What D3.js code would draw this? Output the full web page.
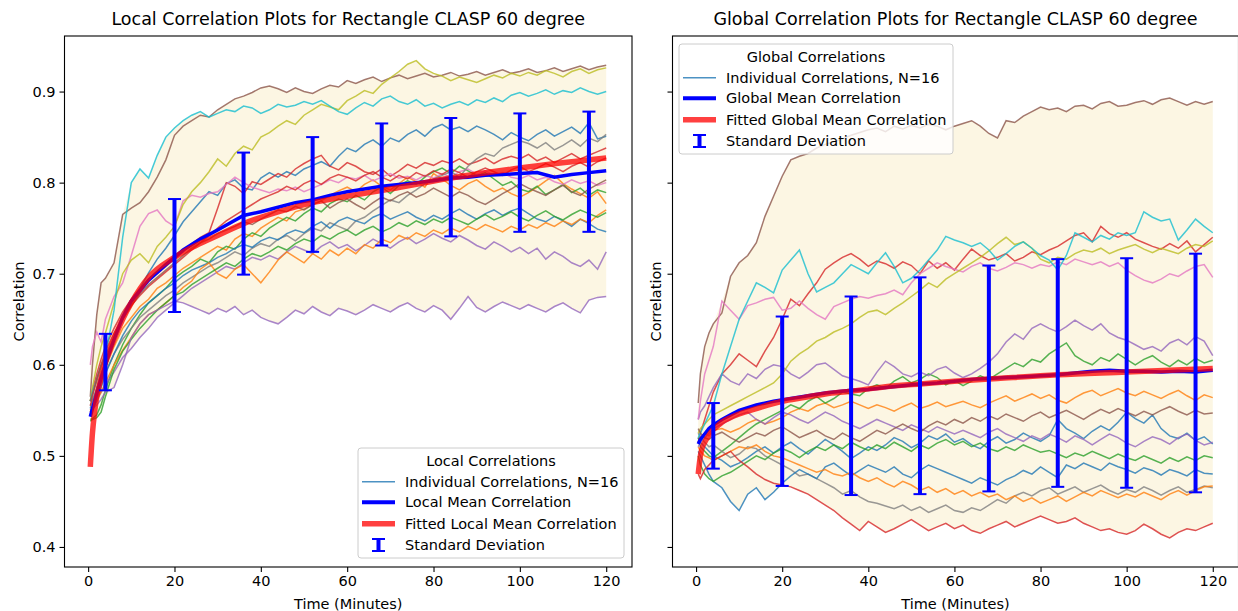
<!DOCTYPE html>
<html>
<head>
<meta charset="utf-8">
<script src="https://cdn.jsdelivr.net/npm/d3@7"></script>
<style>
body { margin: 0; background: #fff; }
svg { font-family: "DejaVu Sans", sans-serif; }
</style>
</head>
<body>
<svg id="chart" width="1238" height="611"></svg>
<script>
// sample times (minutes) shared by all individual series
const minutes = [0.5,1,2,3,4,6,8,10,12,14,16,18,20,22,24,26,28,30,32,34,36,38,40,42,44,46,48,50,52,54,56,58,60,
  62,64,66,68,70,72,74,76,78,80,82,84,86,88,90,92,94,96,98,100,102,104,106,108,110,112,114,116,118,120]

// local correlations, 16 runs (tab10 colour order)
const localLines = [
  [.552,.561,.574,.590,.605,.628,.652,.668,.684,.701,.716,.728,.742,.757,.768,.779,.790,.786,.799,.803,.794,.792,.805,.811,.806,.812,.808,.815,.819,.823,.818,.829,.838,.834,.842,.847,.840,.849,.845,.853,.858,.851,.860,.864,.858,.861,.856,.862,.858,.853,.847,.855,.850,.846,.853,.858,.851,.856,.861,.854,.866,.848,.851],
  [.548,.556,.568,.584,.596,.620,.640,.652,.664,.672,.684,.690,.698,.706,.712,.718,.724,.730,.726,.738,.744,.741,.750,.756,.762,.758,.768,.771,.776,.780,.786,.791,.795,.790,.798,.803,.796,.792,.799,.806,.801,.795,.810,.804,.797,.792,.799,.803,.796,.790,.794,.788,.784,.789,.795,.802,.808,.799,.793,.788,.783,.790,.777],
  [.540,.541,.545,.556,.572,.600,.622,.640,.655,.668,.676,.684,.695,.702,.708,.716,.712,.724,.730,.727,.738,.745,.741,.750,.756,.762,.758,.766,.772,.768,.777,.782,.779,.786,.781,.790,.795,.788,.797,.802,.798,.806,.812,.816,.810,.818,.813,.808,.811,.804,.797,.801,.793,.790,.796,.787,.792,.798,.789,.794,.786,.792,.789],
  [.560,.572,.590,.606,.620,.640,.658,.672,.684,.692,.700,.708,.716,.724,.733,.740,.745,.772,.800,.796,.788,.801,.798,.804,.810,.806,.815,.821,.826,.830,.818,.814,.822,.818,.812,.809,.815,.807,.813,.820,.816,.822,.819,.824,.821,.826,.820,.823,.827,.821,.826,.829,.826,.831,.824,.828,.822,.827,.832,.826,.830,.834,.838],
  [.548,.553,.560,.570,.578,.592,.608,.618,.630,.640,.652,.660,.668,.676,.684,.690,.696,.702,.708,.705,.712,.718,.715,.720,.716,.724,.730,.726,.722,.730,.735,.728,.732,.725,.731,.738,.733,.728,.735,.740,.733,.738,.744,.739,.735,.742,.737,.731,.727,.735,.730,.724,.729,.722,.728,.716,.724,.719,.712,.708,.715,.705,.724],
  [.565,.600,.655,.690,.695,.712,.765,.772,.778,.790,.806,.825,.852,.862,.868,.874,.872,.880,.886,.892,.895,.899,.904,.906,.903,.899,.904,.900,.898,.903,.907,.905,.912,.909,.913,.916,.911,.915,.918,.914,.917,.920,.916,.918,.921,.917,.919,.922,.918,.921,.924,.920,.922,.925,.921,.923,.926,.922,.925,.928,.924,.927,.929],
  [.600,.620,.636,.625,.650,.675,.690,.720,.752,.766,.770,.758,.752,.780,.786,.784,.788,.790,.798,.806,.800,.795,.792,.789,.793,.791,.795,.790,.794,.798,.803,.800,.806,.804,.808,.802,.806,.810,.805,.807,.803,.808,.805,.810,.806,.812,.815,.809,.813,.808,.811,.806,.804,.808,.803,.806,.801,.798,.803,.799,.802,.797,.800],
  [.555,.560,.570,.582,.592,.612,.628,.640,.652,.660,.668,.676,.682,.690,.696,.702,.708,.712,.718,.724,.720,.728,.733,.730,.738,.742,.736,.744,.750,.747,.756,.752,.748,.758,.762,.769,.775,.781,.778,.786,.792,.799,.804,.808,.812,.806,.818,.826,.832,.829,.838,.842,.846,.843,.838,.844,.836,.841,.847,.840,.849,.845,.853],
  [.560,.575,.600,.620,.635,.668,.700,.715,.722,.712,.730,.740,.752,.776,.790,.800,.812,.826,.818,.832,.840,.836,.850,.855,.862,.868,.864,.874,.880,.886,.883,.880,.890,.895,.901,.898,.908,.915,.922,.930,.934,.925,.920,.917,.912,.916,.913,.910,.914,.918,.915,.920,.917,.921,.918,.923,.920,.916,.922,.925,.920,.924,.926],
  [.560,.570,.585,.600,.610,.660,.740,.800,.815,.805,.830,.850,.860,.868,.874,.878,.872,.876,.880,.878,.884,.882,.876,.880,.886,.883,.885,.889,.886,.890,.884,.878,.875,.882,.888,.884,.892,.895,.889,.886,.891,.884,.887,.882,.886,.889,.885,.891,.888,.893,.889,.896,.899,.895,.898,.902,.897,.901,.899,.904,.900,.897,.900],
  [.545,.550,.560,.575,.590,.612,.632,.648,.660,.668,.676,.684,.690,.698,.704,.708,.712,.718,.722,.728,.732,.729,.736,.740,.737,.744,.748,.745,.752,.757,.750,.758,.762,.758,.755,.762,.766,.760,.764,.768,.762,.758,.764,.760,.766,.771,.765,.760,.766,.770,.764,.769,.772,.766,.760,.757,.763,.758,.752,.760,.755,.749,.746],
  [.550,.555,.562,.570,.580,.600,.616,.630,.645,.655,.660,.668,.676,.685,.692,.705,.712,.700,.695,.705,.710,.700,.690,.702,.715,.724,.718,.712,.722,.716,.726,.720,.728,.722,.732,.728,.738,.734,.742,.738,.745,.741,.748,.744,.750,.746,.752,.748,.754,.750,.746,.752,.748,.754,.750,.756,.752,.758,.754,.760,.756,.764,.770],
  [.538,.540,.542,.548,.565,.595,.615,.628,.640,.650,.660,.668,.676,.680,.688,.694,.700,.706,.712,.708,.716,.722,.719,.724,.730,.726,.733,.738,.735,.742,.738,.744,.748,.742,.748,.752,.746,.750,.756,.752,.758,.754,.760,.756,.762,.758,.754,.760,.765,.759,.763,.768,.762,.758,.764,.769,.763,.759,.765,.770,.766,.762,.767],
  [.555,.565,.585,.600,.615,.635,.650,.665,.676,.686,.694,.702,.710,.718,.726,.734,.742,.750,.758,.764,.770,.776,.782,.786,.790,.796,.792,.799,.803,.798,.805,.809,.806,.802,.808,.812,.806,.802,.808,.804,.811,.807,.813,.809,.815,.811,.806,.812,.816,.812,.808,.814,.818,.812,.816,.821,.817,.812,.818,.822,.817,.823,.827],
  [.550,.552,.556,.562,.570,.575,.600,.630,.645,.655,.660,.665,.670,.668,.664,.660,.656,.662,.658,.664,.655,.660,.652,.648,.645,.652,.660,.656,.664,.658,.654,.662,.659,.655,.660,.666,.662,.658,.664,.668,.662,.658,.665,.660,.650,.662,.675,.663,.658,.664,.669,.665,.661,.666,.662,.658,.664,.668,.662,.657,.671,.674,.675],
  [.560,.568,.582,.598,.610,.630,.650,.665,.678,.688,.696,.704,.712,.720,.728,.734,.738,.744,.748,.752,.757,.754,.760,.765,.770,.768,.774,.770,.776,.780,.772,.778,.782,.776,.771,.778,.784,.780,.786,.790,.784,.788,.794,.789,.784,.790,.786,.780,.776,.782,.788,.793,.799,.794,.790,.786,.792,.797,.790,.786,.793,.798,.803]
]

// global correlations, 16 runs
const globalLines = [
  [.520,.515,.510,.505,.500,.495,.488,.492,.498,.505,.510,.503,.510,.515,.508,.502,.510,.518,.512,.505,.497,.503,.510,.506,.512,.520,.516,.509,.514,.522,.518,.524,.515,.519,.512,.508,.516,.521,.514,.518,.525,.520,.516,.522,.540,.530,.525,.519,.527,.533,.528,.537,.548,.541,.536,.545,.530,.522,.519,.525,.517,.521,.513],
  [.515,.520,.525,.522,.528,.530,.526,.530,.536,.540,.535,.538,.542,.548,.552,.549,.555,.558,.553,.556,.560,.556,.552,.556,.553,.549,.554,.558,.552,.555,.559,.554,.557,.560,.556,.553,.558,.562,.566,.560,.564,.568,.563,.567,.561,.558,.564,.569,.572,.566,.570,.574,.569,.566,.571,.567,.563,.568,.572,.566,.561,.567,.564],
  [.520,.510,.505,.500,.498,.505,.512,.520,.528,.535,.540,.545,.550,.556,.552,.560,.565,.558,.563,.570,.568,.566,.574,.578,.574,.582,.587,.580,.584,.590,.586,.578,.583,.577,.582,.588,.584,.590,.596,.602,.598,.606,.603,.612,.618,.624,.610,.604,.600,.608,.604,.612,.606,.600,.606,.610,.603,.598,.605,.600,.607,.602,.605],
  [.515,.525,.540,.555,.570,.590,.600,.612,.605,.598,.615,.630,.650,.672,.665,.678,.690,.705,.712,.718,.722,.716,.708,.714,.711,.706,.713,.709,.700,.714,.706,.712,.704,.716,.727,.720,.715,.718,.722,.714,.718,.724,.721,.726,.730,.736,.742,.745,.735,.752,.744,.740,.745,.738,.734,.730,.727,.733,.728,.736,.724,.732,.740],
  [.540,.548,.555,.565,.575,.590,.582,.578,.590,.585,.595,.600,.598,.590,.585,.592,.600,.602,.595,.588,.585,.582,.578,.592,.604,.598,.590,.587,.592,.588,.595,.598,.591,.586,.590,.596,.603,.612,.625,.634,.628,.640,.645,.640,.636,.642,.649,.643,.638,.645,.635,.630,.627,.622,.617,.620,.615,.624,.628,.622,.631,.626,.610],
  [.558,.590,.620,.635,.645,.657,.697,.712,.720,.734,.763,.785,.807,.825,.829,.832,.838,.842,.845,.848,.852,.855,.858,.860,.856,.862,.859,.863,.860,.864,.862,.858,.862,.865,.868,.862,.854,.849,.868,.866,.873,.878,.883,.880,.882,.878,.884,.885,.881,.887,.889,.884,.885,.888,.890,.886,.891,.893,.889,.885,.889,.886,.889],
  [.540,.560,.590,.605,.620,.670,.660,.650,.665,.668,.672,.674,.660,.662,.670,.662,.655,.650,.664,.668,.672,.675,.673,.676,.678,.682,.677,.690,.700,.706,.712,.708,.705,.702,.708,.712,.706,.703,.707,.712,.710,.706,.710,.708,.713,.710,.716,.713,.710,.713,.708,.712,.704,.698,.693,.690,.694,.700,.697,.703,.708,.710,.696],
  [.525,.520,.515,.510,.512,.505,.498,.502,.510,.508,.500,.495,.490,.485,.478,.480,.475,.470,.465,.458,.462,.455,.450,.448,.445,.442,.446,.440,.444,.438,.442,.446,.440,.438,.443,.440,.446,.452,.448,.456,.460,.456,.462,.465,.458,.462,.466,.460,.464,.468,.462,.458,.463,.460,.466,.462,.457,.462,.466,.460,.463,.467,.465],
  [.525,.530,.535,.540,.545,.550,.555,.560,.565,.570,.575,.580,.590,.604,.612,.618,.626,.630,.636,.640,.645,.652,.658,.660,.655,.662,.668,.675,.682,.690,.685,.694,.700,.706,.712,.718,.725,.733,.740,.732,.735,.728,.716,.712,.718,.716,.722,.726,.724,.728,.722,.726,.729,.732,.727,.723,.728,.725,.722,.728,.732,.730,.736],
  [.520,.525,.535,.545,.555,.590,.620,.650,.670,.690,.685,.679,.704,.715,.726,.700,.680,.685,.690,.700,.710,.705,.700,.712,.723,.708,.690,.695,.704,.715,.726,.741,.737,.734,.730,.734,.726,.715,.722,.730,.735,.728,.720,.715,.704,.720,.745,.740,.735,.742,.738,.745,.742,.745,.768,.762,.758,.760,.737,.748,.760,.752,.745],
  [.505,.500,.490,.480,.472,.465,.450,.440,.458,.465,.452,.460,.470,.478,.485,.480,.475,.488,.492,.485,.478,.484,.490,.486,.482,.488,.480,.476,.484,.490,.486,.482,.478,.474,.470,.476,.472,.468,.474,.478,.484,.480,.488,.482,.476,.490,.486,.492,.488,.484,.492,.488,.485,.481,.487,.484,.479,.485,.482,.478,.485,.481,.480],
  [.510,.505,.500,.498,.495,.500,.505,.510,.508,.512,.505,.500,.498,.494,.490,.486,.482,.485,.480,.478,.482,.476,.472,.476,.470,.466,.472,.468,.462,.466,.460,.464,.458,.462,.456,.460,.455,.458,.452,.456,.450,.454,.448,.452,.456,.450,.455,.460,.456,.462,.458,.454,.458,.455,.460,.456,.452,.458,.462,.457,.462,.466,.467],
  [.500,.490,.480,.475,.472,.478,.482,.488,.494,.500,.496,.503,.508,.504,.498,.505,.510,.506,.512,.508,.515,.510,.506,.512,.508,.515,.510,.505,.512,.508,.514,.518,.512,.516,.510,.514,.508,.505,.510,.506,.512,.508,.504,.506,.502,.498,.503,.500,.505,.501,.497,.502,.498,.495,.500,.496,.492,.498,.494,.499,.495,.500,.498],
  [.480,.475,.485,.490,.495,.500,.505,.495,.488,.480,.474,.470,.468,.466,.462,.458,.452,.446,.440,.432,.425,.418,.428,.422,.416,.420,.425,.430,.424,.418,.422,.426,.420,.424,.418,.415,.420,.424,.428,.422,.426,.430,.434,.430,.426,.428,.432,.426,.422,.418,.420,.416,.414,.418,.425,.420,.414,.410,.416,.420,.418,.422,.426],
  [.510,.515,.520,.525,.530,.535,.540,.545,.548,.540,.535,.542,.548,.545,.540,.536,.542,.548,.544,.538,.534,.530,.535,.540,.536,.532,.528,.534,.530,.526,.532,.528,.524,.528,.524,.520,.526,.530,.524,.520,.516,.522,.518,.524,.520,.515,.522,.518,.512,.518,.524,.520,.514,.510,.516,.521,.518,.513,.520,.524,.517,.512,.515],
  [.530,.525,.520,.518,.522,.526,.520,.515,.520,.525,.522,.528,.532,.526,.520,.524,.528,.522,.518,.525,.520,.516,.522,.528,.524,.530,.535,.530,.526,.533,.538,.534,.540,.536,.542,.538,.544,.540,.546,.542,.538,.544,.548,.542,.546,.550,.545,.540,.546,.551,.547,.552,.548,.544,.549,.545,.550,.554,.549,.545,.550,.546,.547]
]

// mean curves
const meanMinutes = [0.5,1,2,3,4,6,8,10,14,18,22,26,30,36,40,44,48,52,56,60,64,68,72,76,80,84,88,92,96,100,104,108,112,116,120]
const localMean = [.543,.552,.568,.585,.600,.628,.652,.670,.693,.710,.726,.738,.748,.764,.768,.773,.778,.781,.786,.790,.793,.796,.798,.800,.802,.805,.806,.808,.809,.810,.811,.806,.809,.811,.813]
const globalMean = [.513,.518,.524,.530,.534,.540,.545,.550,.556,.560,.563,.566,.569,.572,.573,.575,.577,.579,.580,.582,.584,.585,.586,.587,.588,.589,.591,.593,.594,.593,.593,.592,.593,.592,.594]

// fitted mean curves
const fitMinutes = [0.5,1,1.5,2,3,4,5,6,8,10,14,20,25,30,36,44,52,60,70,84,100,120]
const localFit = [.488,.525,.548,.565,.585,.603,.616,.628,.650,.668,.696,.718,.731,.742,.755,.768,.778,.785,.793,.805,.816,.827]
const globalFit = [.480,.500,.510,.515,.523,.529,.533,.537,.542,.546,.552,.560,.564,.568,.571,.576,.579,.582,.585,.589,.592,.596]

// standard deviation bars
const errMinutes = [4,20,36,52,68,84,100,116]
const localErrMean = [.603,.720,.766,.787,.798,.806,.811,.812]
const localErrSd = [.031,.062,.067,.063,.067,.065,.065,.066]
const globalErrMean = [.522,.560,.566,.577,.585,.591,.591,.591]
const globalErrSd = [.036,.093,.109,.119,.124,.125,.126,.131]

const yTicks = [0.4,0.5,0.6,0.7,0.8,0.9]
const xTicks = [0,20,40,60,80,100,120]

var svg = d3.select("#chart")
var plotTop = 36, plotH = 531
var colours = d3.schemeCategory10
var fs = "14.5px"

function drawPanel(o){
  var g = svg.append("g").attr("transform","translate("+o.left+","+plotTop+")")
  var x = d3.scaleLinear().domain([-5.475,125.975]).range([0,o.width])
  var y = d3.scaleLinear().domain([0.378,0.961]).range([plotH,0])

  // min / max envelope
  var env = minutes.map((t,i)=>({t:t,lo:d3.min(o.lines,l=>l[i]),hi:d3.max(o.lines,l=>l[i])}))
  g.append("path").datum(env)
    .attr("d",d3.area().x(d=>x(d.t)).y0(d=>y(d.lo)).y1(d=>y(d.hi)))
    .attr("fill","#fcf6e3")

  var line = d3.line().x((d,i)=>x(minutes[i])).y(d=>y(d))
  o.lines.forEach((l,k)=>{
    g.append("path").datum(l).attr("d",line)
      .attr("fill","none").attr("stroke",colours[k%10])
      .attr("stroke-width",1.5).attr("stroke-opacity",0.8)
  })

  g.append("path").datum(o.mean)
    .attr("d",d3.line().x((d,i)=>x(meanMinutes[i])).y(d=>y(d)))
    .attr("fill","none").attr("stroke","#0000ff").attr("stroke-width",3.5)

  g.append("path").datum(o.fit)
    .attr("d",d3.line().curve(d3.curveMonotoneX).x((d,i)=>x(fitMinutes[i])).y(d=>y(d)))
    .attr("fill","none").attr("stroke","#ff0000").attr("stroke-opacity",0.75).attr("stroke-width",5.5)

  errMinutes.forEach((t,i)=>{
    var cx = x(t), y1 = y(o.errMean[i]+o.errSd[i]), y2 = y(o.errMean[i]-o.errSd[i])
    g.append("line").attr("x1",cx).attr("x2",cx).attr("y1",y1).attr("y2",y2)
      .attr("stroke","#0000ff").attr("stroke-width",4)
    ;[y1,y2].forEach(yy=>{
      g.append("line").attr("x1",cx-6.5).attr("x2",cx+6.5).attr("y1",yy).attr("y2",yy)
        .attr("stroke","#0000ff").attr("stroke-width",2)
    })
  })

  // axes
  var xa = g.append("g").attr("transform","translate(0,"+plotH+")")
    .call(d3.axisBottom(x).tickValues(xTicks).tickSize(5).tickPadding(4).tickFormat(d3.format("d")))
  var ya = g.append("g")
    .call(d3.axisLeft(y).tickValues(yTicks).tickSize(5).tickPadding(4).tickFormat(o.yLabels ? d3.format(".1f") : ""))
  ;[xa,ya].forEach(a=>{
    a.select(".domain").remove()
    a.selectAll("line").attr("stroke","#000").attr("stroke-width",1.1)
    a.selectAll("text").attr("fill","#000").style("font-size",fs).style("font-family","DejaVu Sans")
  })
  g.append("rect").attr("width",o.width).attr("height",plotH)
    .attr("fill","none").attr("stroke","#000").attr("stroke-width",1.1)

  g.append("text").text(o.title).attr("x",o.width/2).attr("y",-11)
    .attr("text-anchor","middle").style("font-size","17.5px")
  g.append("text").text("Time (Minutes)").attr("x",o.width/2).attr("y",plotH+42)
    .attr("text-anchor","middle").style("font-size",fs)
  g.append("text").text("Correlation")
    .attr("transform","translate("+o.yLabelX+","+(plotH/2)+") rotate(-90)")
    .attr("text-anchor","middle").attr("dy","0.35em").style("font-size",fs)

  // legend
  var lg = g.append("g").attr("transform","translate("+o.legend[0]+","+o.legend[1]+")")
  lg.append("rect").attr("width",o.legend[2]).attr("height",110).attr("rx",3)
    .attr("fill","#fff").attr("fill-opacity",0.8).attr("stroke","#cccccc").attr("stroke-width",1)
  lg.append("text").text(o.legendTitle).attr("x",o.legend[2]/2).attr("y",12.7).attr("dy","0.35em")
    .attr("text-anchor","middle").style("font-size",fs)
  var rows = [33.7,54.3,75.7,97]
  o.legendItems.forEach((txt,i)=>{
    lg.append("text").text(txt).attr("x",47).attr("y",rows[i]).attr("dy","0.35em").style("font-size",fs)
  })
  lg.append("line").attr("x1",4).attr("x2",37).attr("y1",rows[0]).attr("y2",rows[0])
    .attr("stroke",colours[0]).attr("stroke-width",1.5).attr("stroke-opacity",0.8)
  lg.append("line").attr("x1",4).attr("x2",37).attr("y1",rows[1]).attr("y2",rows[1])
    .attr("stroke","#0000ff").attr("stroke-width",4)
  lg.append("line").attr("x1",4).attr("x2",37).attr("y1",rows[2]).attr("y2",rows[2])
    .attr("stroke","#ff0000").attr("stroke-opacity",0.75).attr("stroke-width",5.5)
  lg.append("line").attr("x1",20.5).attr("x2",20.5).attr("y1",rows[3]-6).attr("y2",rows[3]+6)
    .attr("stroke","#0000ff").attr("stroke-width",4)
  ;[rows[3]-6,rows[3]+6].forEach(yy=>{
    lg.append("line").attr("x1",14).attr("x2",27).attr("y1",yy).attr("y2",yy)
      .attr("stroke","#0000ff").attr("stroke-width",2)
  })
}

drawPanel({left:64.5,width:567.5,lines:localLines,mean:localMean,fit:localFit,
  errMean:localErrMean,errSd:localErrSd,yLabels:true,yLabelX:-46,
  title:"Local Correlation Plots for Rectangle CLASP 60 degree",
  legend:[293.5,412,266],legendTitle:"Local Correlations",
  legendItems:["Individual Correlations, N=16","Local Mean Correlation","Fitted Local Mean Correlation","Standard Deviation"]})

drawPanel({left:672.5,width:566,lines:globalLines,mean:globalMean,fit:globalFit,
  errMean:globalErrMean,errSd:globalErrSd,yLabels:false,yLabelX:-17,
  title:"Global Correlation Plots for Rectangle CLASP 60 degree",
  legend:[6.5,8,274],legendTitle:"Global Correlations",
  legendItems:["Individual Correlations, N=16","Global Mean Correlation","Fitted Global Mean Correlation","Standard Deviation"]})
</script>
</body>
</html>
